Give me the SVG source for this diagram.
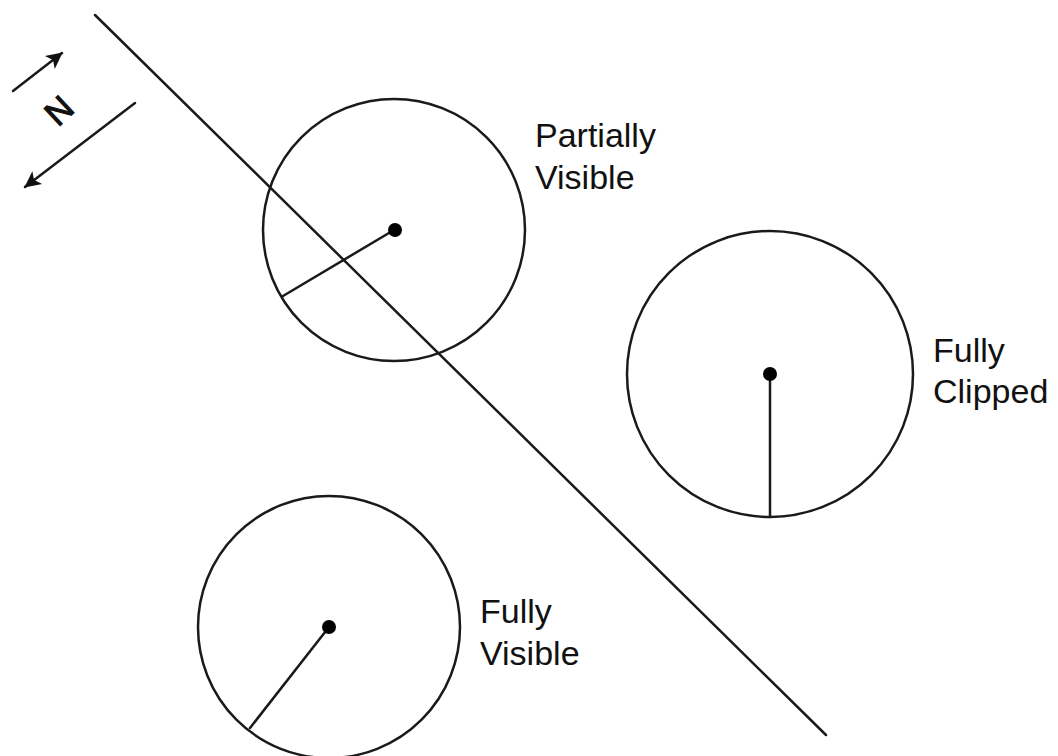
<svg xmlns="http://www.w3.org/2000/svg" width="1058" height="756" viewBox="0 0 1058 756">
<style>
.ln{stroke:#1a1a1a;stroke-width:2.5;fill:none;stroke-linecap:round}
.ci{stroke:#1a1a1a;stroke-width:2.5;fill:none}
.dot{fill:#000}
.lb{font-family:"Liberation Sans",Arial,sans-serif;font-size:34px;fill:#111}
</style>
<defs>
<marker id="ah" viewBox="0 0 10 10" refX="9.5" refY="5" markerWidth="8.5" markerHeight="6.5" markerUnits="strokeWidth" orient="auto">
<path d="M0,0 L10,5 L0,10 L2.5,5 z" fill="#111"/>
</marker>
</defs>
<rect width="1058" height="756" fill="#fff"/>
<g id="connectors">
<line class="ln" x1="95" y1="15" x2="826" y2="735"/>
<line class="ln" x1="13" y1="91" x2="62" y2="53" marker-end="url(#ah)"/>
<line class="ln" x1="135" y1="103" x2="25" y2="187" marker-end="url(#ah)"/>
</g>
<g id="normal-label">
<text class="lb" font-size="39" text-anchor="middle" stroke="#111" stroke-width="1.2" transform="translate(57.5,109) rotate(-43)" y="14">N</text>
</g>
<g id="partially-visible">
<circle class="ci" cx="394" cy="230" r="131"/>
<line class="ln" x1="394" y1="230" x2="283" y2="296"/>
<circle class="dot" cx="395" cy="230" r="7"/>
<text class="lb" x="535" y="147">Partially</text>
<text class="lb" x="535" y="189">Visible</text>
</g>
<g id="fully-clipped">
<circle class="ci" cx="770" cy="374" r="143"/>
<line class="ln" x1="770" y1="374" x2="770" y2="517"/>
<circle class="dot" cx="770" cy="374" r="7"/>
<text class="lb" x="933" y="362">Fully</text>
<text class="lb" x="933" y="403">Clipped</text>
</g>
<g id="fully-visible">
<circle class="ci" cx="329" cy="627" r="131"/>
<line class="ln" x1="329" y1="627" x2="250" y2="728"/>
<circle class="dot" cx="329" cy="627" r="7"/>
<text class="lb" x="480" y="623">Fully</text>
<text class="lb" x="480" y="665">Visible</text>
</g>
</svg>
